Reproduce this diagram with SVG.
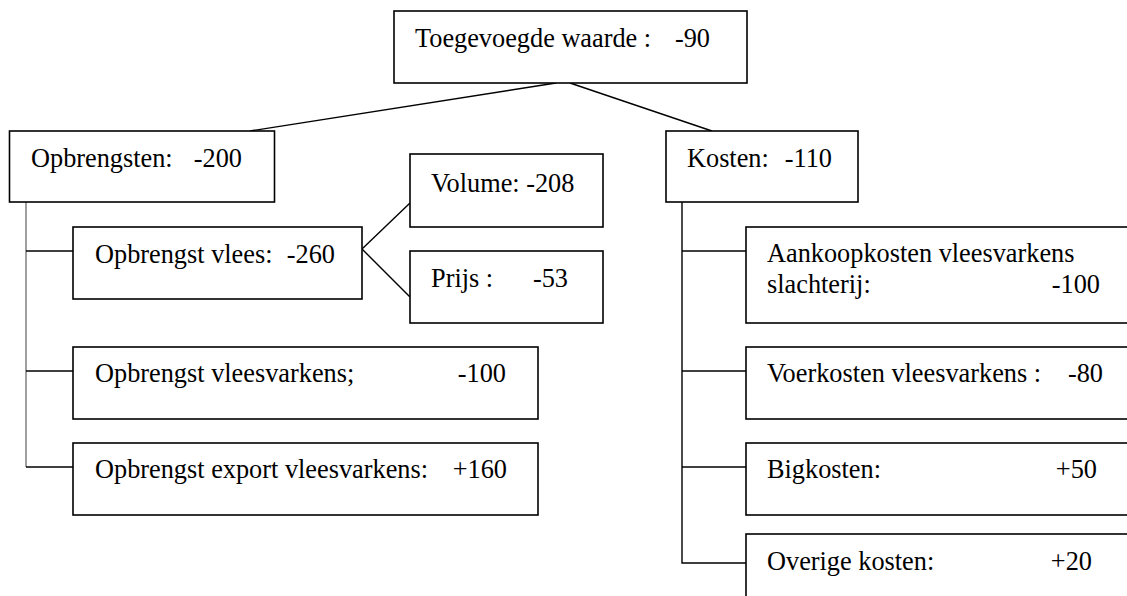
<svg xmlns="http://www.w3.org/2000/svg" width="1127" height="596" viewBox="0 0 1127 596">
<style>
.box{fill:#fff;stroke:#000;stroke-width:1.6}
.t{font-family:"Liberation Serif","Times New Roman",serif;font-size:26.3px;fill:#000}
.n{text-anchor:end}
.c{fill:none;stroke:#000;stroke-width:1.4}
.g{stroke:#777}
</style>
<rect width="1127" height="596" fill="#fff"/>
<g id="connectors">
<line class="c" x1="556" y1="83" x2="250" y2="131"/>
<line class="c" x1="570" y1="83" x2="712" y2="131"/>
<line class="c g" x1="26" y1="202" x2="26" y2="467"/>
<line class="c" x1="26" y1="251" x2="73" y2="251"/>
<line class="c" x1="26" y1="371" x2="73" y2="371"/>
<line class="c" x1="26" y1="467" x2="73" y2="467"/>
<line class="c" x1="362" y1="249" x2="410" y2="203"/>
<line class="c" x1="362" y1="249" x2="410" y2="297"/>
<polyline class="c" points="682,202 682,563 746,563"/>
<line class="c" x1="682" y1="251" x2="746" y2="251"/>
<line class="c" x1="682" y1="371" x2="746" y2="371"/>
<line class="c" x1="682" y1="467" x2="746" y2="467"/>
</g>
<g id="n-toegevoegde">
<rect class="box" x="394" y="11" width="353" height="72"/>
<text class="t" x="415" y="47">Toegevoegde waarde :</text>
<text class="t n" x="710" y="47">-90</text>
</g>
<g id="n-opbrengsten">
<rect class="box" x="9.5" y="131" width="265" height="71"/>
<text class="t" x="31" y="167">Opbrengsten:</text>
<text class="t n" x="242" y="167">-200</text>
</g>
<g id="n-kosten">
<rect class="box" x="666" y="131" width="192" height="71"/>
<text class="t" x="687" y="167">Kosten:</text>
<text class="t n" x="832" y="167">-110</text>
</g>
<g id="n-vlees">
<rect class="box" x="73" y="227" width="289" height="72"/>
<text class="t" x="95" y="263">Opbrengst vlees:</text>
<text class="t n" x="335" y="263">-260</text>
</g>
<g id="n-volume">
<rect class="box" x="410" y="154" width="193" height="73"/>
<text class="t" x="431" y="192">Volume: -208</text>
</g>
<g id="n-prijs">
<rect class="box" x="410" y="251" width="193" height="72"/>
<text class="t" x="431" y="287">Prijs :</text>
<text class="t n" x="568" y="287">-53</text>
</g>
<g id="n-vleesvarkens">
<rect class="box" x="73" y="347" width="465" height="72"/>
<text class="t" x="95" y="382">Opbrengst vleesvarkens;</text>
<text class="t n" x="506" y="382">-100</text>
</g>
<g id="n-export">
<rect class="box" x="73" y="443" width="465" height="72"/>
<text class="t" x="95" y="478">Opbrengst export vleesvarkens:</text>
<text class="t n" x="507" y="478">+160</text>
</g>
<g id="n-aankoop">
<rect class="box" x="746" y="227" width="420" height="96"/>
<text class="t" x="767" y="262">Aankoopkosten vleesvarkens</text>
<text class="t" x="767" y="293">slachterij:</text>
<text class="t n" x="1100" y="293">-100</text>
</g>
<g id="n-voer">
<rect class="box" x="746" y="347" width="420" height="72"/>
<text class="t" x="767" y="382">Voerkosten vleesvarkens :</text>
<text class="t n" x="1103" y="382">-80</text>
</g>
<g id="n-big">
<rect class="box" x="746" y="443" width="420" height="72"/>
<text class="t" x="767" y="478">Bigkosten:</text>
<text class="t n" x="1097" y="478">+50</text>
</g>
<g id="n-overige">
<rect class="box" x="746" y="534" width="420" height="80"/>
<text class="t" x="767" y="570">Overige kosten:</text>
<text class="t n" x="1092" y="570">+20</text>
</g>
</svg>
